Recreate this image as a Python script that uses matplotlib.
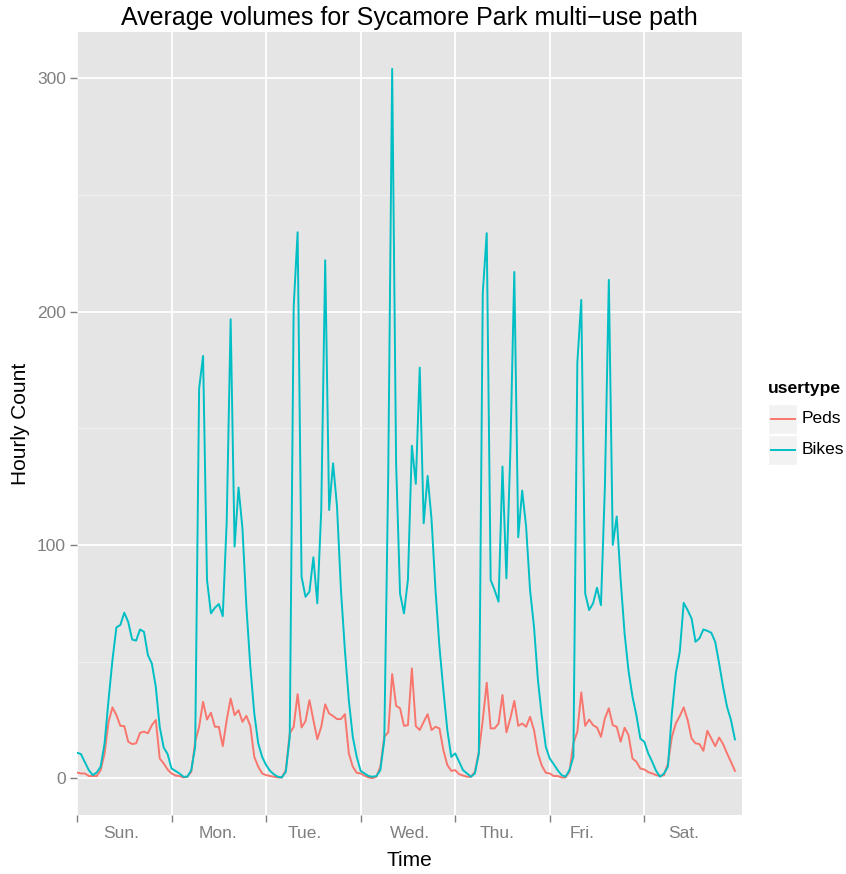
import numpy as np
import matplotlib.pyplot as plt
from matplotlib.patches import Rectangle
from matplotlib.lines import Line2D

plt.rcParams['font.family'] = ['Liberation Sans', 'DejaVu Sans']

# day labels on the x axis and the hour each label is centred on
days = ['Sun.', 'Mon.', 'Tue.', 'Wed.', 'Thu.', 'Fri.', 'Sat.']
day_label_pos = [11.3, 35.9, 57.7, 84.5, 106.6, 128.1, 153.9]

# average hourly counts, Sunday 00:00 .. Saturday 23:00
peds = [2.5, 2.1, 2.1, 1, 1, 1, 3.5, 10.7, 24.2, 30.4, 27.1, 22.5, 22.4, 15.7, 14.7, 15, 19.5, 20, 19.3, 22.8, 25, 8.5, 6.4, 3.8,
        2.1, 1.2, 1, 0.4, 0.7, 2.8, 15.7, 22.1, 32.8, 25.2, 28.1, 22.1, 22.1, 13.8, 25, 34.2, 27.1, 29.2, 24.2, 26.8, 22.4, 9.2, 5, 2.1,
        1.4, 1, 0.7, 0.4, 0.4, 3.5, 19.2, 22.1, 36.1, 21.8, 24.5, 33.5, 25, 16.8, 22.1, 31.7, 27.8, 26.7, 25.4, 25.4, 27.5, 10.7, 5, 2.4,
        2.1, 1.1, 0.4, 0.1, 0.7, 5, 17.8, 19.7, 44.7, 31.1, 30, 22.5, 22.8, 47.1, 22.4, 20.7, 24.2, 27.5, 20.7, 22.1, 21.4, 12.1, 5.7, 3.2,
        3.5, 1.8, 1.2, 0.7, 0.7, 2.8, 11.4, 25, 41, 21.4, 21.4, 23.5, 35.7, 19.7, 25.7, 33.2, 22.5, 23.5, 22.1, 26.4, 20.7, 10.7, 5.4, 2.4,
        2.1, 1, 1, 0.4, 0.4, 2.8, 15, 20, 36.8, 22.5, 25.2, 22.8, 21.8, 17.8, 25.7, 30, 22.8, 22.1, 15.7, 21.7, 18.5, 8.5, 7.1, 4.2,
        3.8, 2.7, 2.1, 1.4, 1, 1.4, 6.4, 17.8, 23.5, 26.7, 30.4, 25, 17.1, 15, 14.7, 11.8, 20.4, 17.1, 13.8, 17.5, 14.7, 10.7, 7.1, 3.2]

bikes = [11, 10.4, 7, 3.5, 1.4, 2.5, 5, 15, 33.5, 50.7, 64.7, 65.7, 71, 67, 59.5, 59, 63.8, 62.8, 52.8, 49.2, 39.2, 22, 13.2, 10.4,
         4.2, 3.2, 2.1, 0.7, 0.7, 3.5, 13.5, 167, 181, 85, 70.7, 73.1, 74.7, 69.5, 110, 196.7, 99.3, 124.6, 107, 73.5, 47.8, 27.8, 15, 9.2,
         5.7, 3.2, 1.7, 0.7, 0.4, 2.8, 17.8, 202, 234, 86.4, 77.8, 80, 94.7, 75, 115, 222, 115, 135, 116.5, 80.7, 55, 33.5, 17.8, 9.2,
         3.2, 2.1, 1, 0.7, 1, 3.5, 16.4, 130, 304, 135, 79.2, 70.7, 85, 142.5, 126.2, 176, 109.3, 129.6, 110.8, 80.7, 56.4, 37.8, 20.7, 9.2,
         10.7, 7.1, 3.5, 2.1, 0.7, 2.1, 10.7, 208, 233.6, 85, 80.7, 75.7, 133.6, 85.7, 140, 217, 103.3, 123.3, 107.9, 80.7, 65, 42.1, 26.4, 13.5,
         8.5, 6.1, 3.5, 1.4, 0.7, 3.5, 9.2, 178, 205, 79.2, 72.1, 75, 81.7, 74.2, 125, 213.6, 100, 112.2, 85, 62, 46, 35, 27, 17,
         15.7, 10.7, 7.1, 3.2, 0.7, 2.1, 5, 27.8, 45, 54.2, 75.2, 72.1, 68.5, 58.5, 60, 63.8, 63.2, 62.4, 58.5, 49.2, 39.2, 30.7, 25, 16.7]

hours = np.arange(len(peds))

PED_COL = '#F8766D'
BIKE_COL = '#00BFC4'
GREY = '#7F7F7F'

W, H = 846, 874
fx = lambda px: px / W
fy = lambda py: 1 - py / H

fig = plt.figure(figsize=(W / 100, H / 100), dpi=100)
L, R, T, B = 77, 742, 32, 815
ax = fig.add_axes([fx(L), fy(B), (R - L) / W, (B - T) / H])
ax.set_facecolor('#E5E5E5')

ax.plot(hours, peds, color=PED_COL, lw=1.4)
ax.plot(hours, bikes, color=BIKE_COL, lw=1.4)

ax.set_xlim(0, 168.8)
ax.set_ylim(-15.7, 319.8)
ax.set_yticks([0, 100, 200, 300])
ax.set_yticks([50, 150, 250], minor=True)
ax.set_xticks(np.arange(0, 168, 24))
ax.set_xticklabels([])
ax.grid(which='major', color='white', lw=1.3)
ax.grid(which='minor', axis='y', color='#F2F2F2', lw=0.7)
ax.set_axisbelow(True)
for s in ax.spines.values():
    s.set_visible(False)
ax.tick_params(which='major', length=5, color=GREY, width=1,
               labelsize=12.5, labelcolor=GREY, pad=3)
ax.tick_params(which='minor', length=0)

# day names sit between the day ticks
for d, pos in zip(days, day_label_pos):
    ax.text(pos, -0.023, d, transform=ax.get_xaxis_transform(),
            ha='center', va='center', fontsize=12.5, color=GREY)

fig.text(fx(409.5), fy(18), 'Average volumes for Sycamore Park multi\u2212use path',
         ha='center', va='center', fontsize=18)
fig.text(fx(409.5), fy(860), 'Time', ha='center', va='center', fontsize=15)
fig.text(fx(20), fy(423.5), 'Hourly Count', ha='center', va='center',
         rotation=90, fontsize=15)

# legend
fig.text(fx(768), fy(388), 'usertype', ha='left', va='center',
         fontsize=12.6, fontweight='bold')
for j, (lab, col) in enumerate([('Peds', PED_COL), ('Bikes', BIKE_COL)]):
    top = 404 + j * 31
    fig.add_artist(Rectangle((fx(768), fy(top + 30)), 29 / W, 30 / H,
                             transform=fig.transFigure, facecolor='#F2F2F2',
                             edgecolor='white', lw=1))
    yc = fy(top + 15)
    fig.add_artist(Line2D([fx(771), fx(795)], [yc, yc], transform=fig.transFigure,
                          color=col, lw=1.4))
    fig.text(fx(802), yc, lab, ha='left', va='center', fontsize=12.5)

fig.savefig('out.png', dpi=100)
